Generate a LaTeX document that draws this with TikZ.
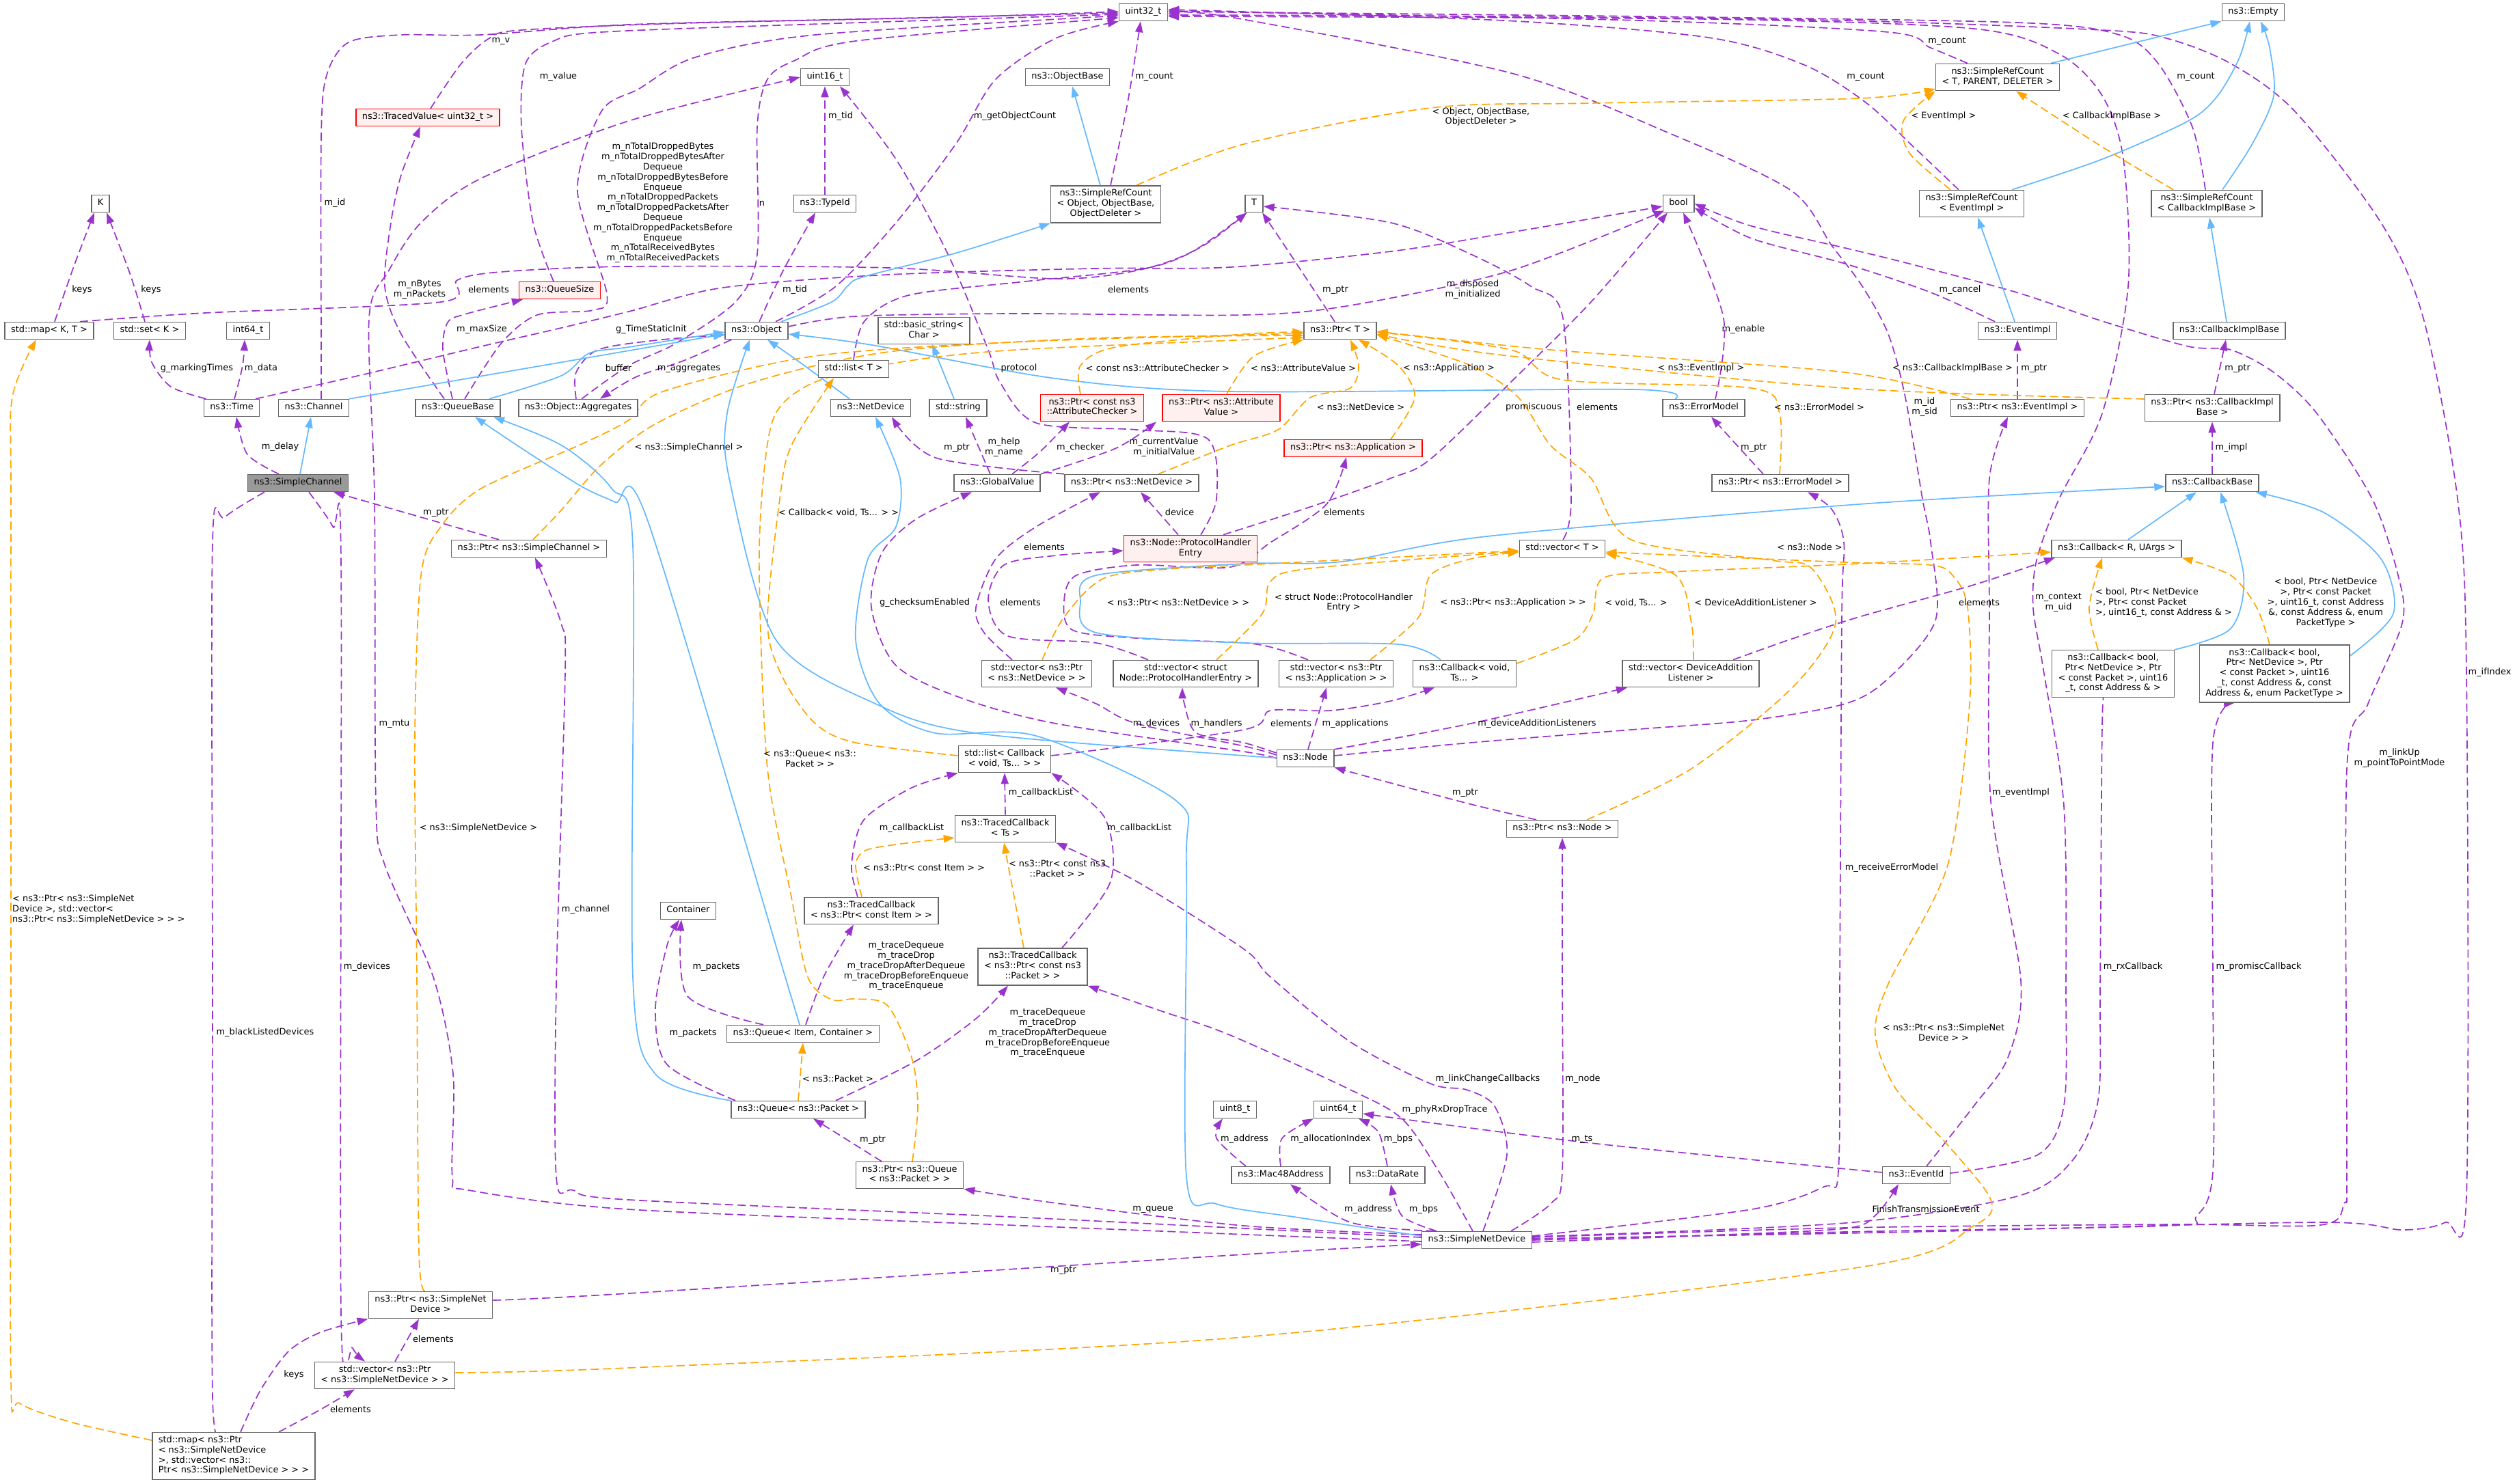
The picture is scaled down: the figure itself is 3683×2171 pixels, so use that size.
\documentclass[tikz,border=0pt]{standalone}
\usepackage{fontspec}
\setmainfont{DejaVu Sans}
\usetikzlibrary{arrows.meta}
\newcommand\dxfont{\fontsize{12.9pt}{14.8pt}\selectfont}
\definecolor{purp}{HTML}{9A32CD}
\definecolor{blu}{HTML}{63B8FF}
\definecolor{orng}{HTML}{FFA500}
\definecolor{boxgray}{HTML}{666666}
\definecolor{curgray}{HTML}{999999}
\definecolor{redfill}{HTML}{FFF0F0}
\pgfdeclarelayer{bgfill}
\pgfdeclarelayer{edges}
\pgfsetlayers{bgfill,edges,main}
\begin{document}
\begin{tikzpicture}[x=1pt,y=-1pt,
  cls/.style={draw=boxgray, fill=white, line width=1.5pt, inner xsep=9pt, inner ysep=5.1pt, align=center, font=\dxfont, execute at begin node=\strut, execute at end node=\strut},
  redcls/.style={cls, draw=red, fill=redfill},
  curcls/.style={cls, fill=curgray},
  lbl/.style={font=\dxfont, align=center, inner sep=0pt, text=black},
  usedge/.style={draw=purp, line width=1.7pt, dash pattern=on 12pt off 6pt, -{Triangle[length=16pt,width=11pt]}},
  inhedge/.style={draw=blu, line width=1.7pt, -{Triangle[length=16pt,width=11pt]}},
  tmpledge/.style={draw=orng, line width=1.7pt, dash pattern=on 12pt off 6pt, -{Triangle[length=16pt,width=11pt]}}
]
\begin{pgfonlayer}{bgfill}
\fill[white] (0,0) rectangle (3683,2171);
\end{pgfonlayer}
\useasboundingbox (0,0) rectangle (3683,2171);

% ---------------- nodes ----------------
\node[cls] (K) at (147,298) {K};
\node[cls] (mapKT) at (72,484) {std::map< K, T >};
\node[cls] (setK) at (219,484) {std::set< K >};
\node[cls] (int64) at (363,484) {int64\_t};
\node[redcls] (tracedvalue) at (626,172) {ns3::TracedValue< uint32\_t >};
\node[redcls] (queuesize) at (819,425) {ns3::QueueSize};
\node[cls] (nstime) at (339,597) {ns3::Time};
\node[cls] (channel) at (459,597) {ns3::Channel};
\node[cls] (queuebase) at (670,597) {ns3::QueueBase};
\node[cls] (aggregates) at (846,597) {ns3::Object::Aggregates};
\node[curcls] (simplechannel) at (436,707) {ns3::SimpleChannel};
\node[cls] (uint32) at (1673,18) {uint32\_t};
\node[cls] (uint16) at (1207,113) {uint16\_t};
\node[cls] (objectbase) at (1562,113) {ns3::ObjectBase};
\node[cls] (typeid) at (1207,298) {ns3::TypeId};
\node[cls] (srcobject) at (1618,299) {ns3::SimpleRefCount\\< Object, ObjectBase,\\ObjectDeleter >};
\node[cls] (object) at (1107,484) {ns3::Object};
\node[cls] (basicstring) at (1352,484) {std::basic\_string<\\Char >};
\node[cls] (listT) at (1249,540) {std::list< T >};
\node[cls] (netdevice) at (1274,597) {ns3::NetDevice};
\node[cls] (string) at (1402,597) {std::string};
\node[redcls] (ptrchecker) at (1598,597) {ns3::Ptr< const ns3\\::AttributeChecker >};
\node[redcls] (ptrvalue) at (1787,597) {ns3::Ptr< ns3::Attribute\\Value >};
\node[cls] (globalvalue) at (1459,707) {ns3::GlobalValue};
\node[cls] (ptrnetdevice) at (1656,707) {ns3::Ptr< ns3::NetDevice >};
\node[cls] (T) at (1835,298) {T};
\node[cls] (bool) at (2456,298) {bool};
\node[cls] (ptrT) at (1961,484) {ns3::Ptr< T >};
\node[redcls] (ptrapp) at (1980,656) {ns3::Ptr< ns3::Application >};
\node[cls] (errormodel) at (2493,597) {ns3::ErrorModel};
\node[cls] (ptrerrormodel) at (2605,707) {ns3::Ptr< ns3::ErrorModel >};
\node[cls] (empty) at (3297,18) {ns3::Empty};
\node[cls] (srcTPD) at (2923,113) {ns3::SimpleRefCount\\< T, PARENT, DELETER >};
\node[cls] (srcevent) at (2885,298) {ns3::SimpleRefCount\\< EventImpl >};
\node[cls] (srccib) at (3229,298) {ns3::SimpleRefCount\\< CallbackImplBase >};
\node[cls] (eventimpl) at (2952,484) {ns3::EventImpl};
\node[cls] (cib) at (3262,484) {ns3::CallbackImplBase};
\node[cls] (ptreventimpl) at (2952,597) {ns3::Ptr< ns3::EventImpl >};
\node[cls] (ptrcib) at (3237,597) {ns3::Ptr< ns3::CallbackImpl\\Base >};
\node[cls] (callbackbase) at (3237,707) {ns3::CallbackBase};
\node[cls] (ptrsimplechannel) at (774,803) {ns3::Ptr< ns3::SimpleChannel >};
\node[redcls] (phe) at (1742,803) {ns3::Node::ProtocolHandler\\Entry};
\node[cls] (vecnetdev) at (1517,986) {std::vector< ns3::Ptr\\< ns3::NetDevice > >};
\node[cls] (vecphe) at (1735,986) {std::vector< struct\\Node::ProtocolHandlerEntry >};
\node[cls] (vecT) at (2286,803) {std::vector< T >};
\node[cls] (vecapp) at (1955,986) {std::vector< ns3::Ptr\\< ns3::Application > >};
\node[cls] (cbvoid) at (2143,986) {ns3::Callback< void,\\Ts... >};
\node[cls] (vecdal) at (2474,986) {std::vector< DeviceAddition\\Listener >};
\node[cls] (nsnode) at (1910,1110) {ns3::Node};
\node[cls] (ptrnode) at (2286,1213) {ns3::Ptr< ns3::Node >};
\node[cls] (callbackR) at (3097,803) {ns3::Callback< R, UArgs >};
\node[cls] (cb4) at (3092,986) {ns3::Callback< bool,\\Ptr< NetDevice >, Ptr\\< const Packet >, uint16\\\_t, const Address \& >};
\node[cls] (cb5) at (3328,986) {ns3::Callback< bool,\\Ptr< NetDevice >, Ptr\\< const Packet >, uint16\\\_t, const Address \&, const\\Address \&, enum PacketType >};
\node[cls] (listcb) at (1470,1111) {std::list< Callback\\< void, Ts... > >};
\node[cls] (tcbts) at (1471,1213) {ns3::TracedCallback\\< Ts >};
\node[cls] (tcbitem) at (1275,1333) {ns3::TracedCallback\\< ns3::Ptr< const Item > >};
\node[cls] (tcbpacket) at (1511,1415) {ns3::TracedCallback\\< ns3::Ptr< const ns3\\::Packet > >};
\node[cls] (container) at (1007,1333) {Container};
\node[cls] (queueIC) at (1175,1513) {ns3::Queue< Item, Container >};
\node[cls] (queuepacket) at (1168,1624) {ns3::Queue< ns3::Packet >};
\node[cls] (ptrqueue) at (1331,1720) {ns3::Ptr< ns3::Queue\\< ns3::Packet > >};
\node[cls] (uint8) at (1807,1624) {uint8\_t};
\node[cls] (uint64) at (1958,1624) {uint64\_t};
\node[cls] (mac48) at (1874,1720) {ns3::Mac48Address};
\node[cls] (datarate) at (2030,1720) {ns3::DataRate};
\node[cls] (snd) at (2161,1815) {ns3::SimpleNetDevice};
\node[cls] (eventid) at (2804,1720) {ns3::EventId};
\node[cls] (ptrsnd) at (630,1910) {ns3::Ptr< ns3::SimpleNet\\Device >};
\node[cls] (vecsnd) at (563,2013) {std::vector< ns3::Ptr\\< ns3::SimpleNetDevice > >};
\node[cls, align=left] (mapsnd) at (342,2131) {std::map< ns3::Ptr\\< ns3::SimpleNetDevice\\ >, std::vector< ns3::\\Ptr< ns3::SimpleNetDevice > > >};

% ---------------- labels ----------------
\node[lbl] (lb1) at (120,424) {keys};
\node[lbl] (lb2) at (221,424) {keys};
\node[lbl] (lb3) at (288,539) {g\_markingTimes};
\node[lbl] (lb4) at (382,539) {m\_data};
\node[lbl] (lb5) at (410,654) {m\_delay};
\node[lbl] (lb6) at (490,297) {m\_id};
\node[lbl] (lb7) at (733,60) {m\_v};
\node[lbl] (lb8) at (817,112) {m\_value};
\node[lbl] (lb9) at (705,482) {m\_maxSize};
\node[lbl] (lb10) at (614,424) {m\_nBytes\\m\_nPackets};
\node[lbl] (lb11) at (970,297) {m\_nTotalDroppedBytes\\m\_nTotalDroppedBytesAfter\\Dequeue\\m\_nTotalDroppedBytesBefore\\Enqueue\\m\_nTotalDroppedPackets\\m\_nTotalDroppedPacketsAfter\\Dequeue\\m\_nTotalDroppedPacketsBefore\\Enqueue\\m\_nTotalReceivedBytes\\m\_nTotalReceivedPackets};
\node[lbl] (lb12) at (953,482) {g\_TimeStaticInit};
\node[lbl] (lb13) at (905,539) {buffer};
\node[lbl] (lb14) at (1008,539) {m\_aggregates};
\node[lbl] (lb15) at (1230,170) {m\_tid};
\node[lbl] (lb16) at (1163,424) {m\_tid};
\node[lbl] (lb17) at (1115,298) {n};
\node[lbl] (lb18) at (1485,170) {m\_getObjectCount};
\node[lbl] (lb19) at (1689,112) {m\_count};
\node[lbl] (lb20) at (2849,60) {m\_count};
\node[lbl] (lb21) at (2730,112) {m\_count};
\node[lbl] (lb22) at (3213,112) {m\_count};
\node[lbl] (lb23) at (3643,984) {m\_ifIndex};
\node[lbl] (lb24) at (2551,482) {m\_enable};
\node[lbl] (lb25) at (2155,424) {m\_disposed\\m\_initialized};
\node[lbl] (lb26) at (1954,424) {m\_ptr};
\node[lbl] (lb27) at (2868,424) {m\_cancel};
\node[lbl] (lb28) at (2566,655) {m\_ptr};
\node[lbl] (lb29) at (2976,539) {m\_ptr};
\node[lbl] (lb30) at (3274,539) {m\_ptr};
\node[lbl] (lb31) at (3265,655) {m\_impl};
\node[lbl] (lb32) at (715,424) {elements};
\node[lbl] (lb33) at (1651,424) {elements};
\node[lbl] (lb34) at (2337,596) {elements};
\node[lbl] (lb35) at (2244,596) {promiscuous};
\node[lbl] (lb36) at (1967,750) {elements};
\node[lbl] (lb37) at (1692,1059) {m\_devices};
\node[lbl] (lb38) at (1780,1059) {m\_handlers};
\node[lbl] (lb39) at (1983,1059) {m\_applications};
\node[lbl] (lb40) at (2249,1059) {m\_deviceAdditionListeners};
\node[lbl] (lb41) at (1889,1059) {elements};
\node[lbl] (lb42) at (2816,596) {m\_id\\m\_sid};
\node[lbl] (lb43) at (1353,882) {g\_checksumEnabled};
\node[lbl] (lb44) at (1528,801) {elements};
\node[lbl] (lb45) at (1493,882) {elements};
\node[lbl] (lb46) at (1726,750) {device};
\node[lbl] (lb47) at (1491,539) {protocol};
\node[lbl] (lb48) at (1400,655) {m\_ptr};
\node[lbl] (lb49) at (1469,655) {m\_help\\m\_name};
\node[lbl] (lb50) at (1581,655) {m\_checker};
\node[lbl] (lb51) at (1703,655) {m\_currentValue\\m\_initialValue};
\node[lbl] (lb52) at (1523,1160) {m\_callbackList};
\node[lbl] (lb53) at (1334,1212) {m\_callbackList};
\node[lbl] (lb54) at (1667,1212) {m\_callbackList};
\node[lbl] (lb55) at (1326,1414) {m\_traceDequeue\\m\_traceDrop\\m\_traceDropAfterDequeue\\m\_traceDropBeforeEnqueue\\m\_traceEnqueue};
\node[lbl] (lb56) at (1533,1512) {m\_traceDequeue\\m\_traceDrop\\m\_traceDropAfterDequeue\\m\_traceDropBeforeEnqueue\\m\_traceEnqueue};
\node[lbl] (lb57) at (1048,1415) {m\_packets};
\node[lbl] (lb58) at (1014,1512) {m\_packets};
\node[lbl] (lb59) at (1277,1668) {m\_ptr};
\node[lbl] (lb60) at (1687,1770) {m\_queue};
\node[lbl] (lb61) at (2177,1579) {m\_linkChangeCallbacks};
\node[lbl] (lb62) at (2114,1624) {m\_phyRxDropTrace};
\node[lbl] (lb63) at (2316,1579) {m\_node};
\node[lbl] (lb64) at (2144,1160) {m\_ptr};
\node[lbl] (lb65) at (2002,1770) {m\_address};
\node[lbl] (lb66) at (2083,1770) {m\_bps};
\node[lbl] (lb67) at (2046,1667) {m\_bps};
\node[lbl] (lb68) at (1947,1667) {m\_allocationIndex};
\node[lbl] (lb69) at (1821,1667) {m\_address};
\node[lbl] (lb70) at (2315,1667) {m\_ts};
\node[lbl] (lb71) at (2818,1770) {FinishTransmissionEvent};
\node[lbl] (lb72) at (2957,1160) {m\_eventImpl};
\node[lbl] (lb73) at (3012,882) {m\_context\\m\_uid};
\node[lbl] (lb74) at (3121,1415) {m\_rxCallback};
\node[lbl] (lb75) at (3305,1415) {m\_promiscCallback};
\node[lbl] (lb76) at (3511,1110) {m\_linkUp\\m\_pointToPointMode};
\node[lbl] (lb77) at (2768,1270) {m\_receiveErrorModel};
\node[lbl] (lb78) at (2896,882) {elements};
\node[lbl] (lb79) at (857,1331) {m\_channel};
\node[lbl] (lb80) at (577,1059) {m\_mtu};
\node[lbl] (lb81) at (638,750) {m\_ptr};
\node[lbl] (lb82) at (388,1511) {m\_blackListedDevices};
\node[lbl] (lb83) at (537,1415) {m\_devices};
\node[lbl] (lb84) at (430,2012) {keys};
\node[lbl] (lb85) at (513,2063) {elements};
\node[lbl] (lb86) at (634,1960) {elements};
\node[lbl] (lb87) at (1556,1859) {m\_ptr};
% template labels
\node[lbl, align=left, anchor=west] (tl1) at (18,1331) {< ns3::Ptr< ns3::SimpleNet\\Device >, std::vector<\\ns3::Ptr< ns3::SimpleNetDevice > > >};
\node[lbl] (tl2) at (2844,1511) {< ns3::Ptr< ns3::SimpleNet\\Device > >};
\node[lbl] (tl3) at (700,1212) {< ns3::SimpleNetDevice >};
\node[lbl] (tl4) at (1008,655) {< ns3::SimpleChannel >};
\node[lbl] (tl5) at (1185,1110) {< ns3::Queue< ns3::\\Packet > >};
\node[lbl] (tl6) at (1227,750) {< Callback< void, Ts... > >};
\node[lbl] (tl7) at (1694,539) {< const ns3::AttributeChecker >};
\node[lbl] (tl8) at (1907,539) {< ns3::AttributeValue >};
\node[lbl] (tl9) at (2120,539) {< ns3::Application >};
\node[lbl] (tl10) at (1991,596) {< ns3::NetDevice >};
\node[lbl] (tl11) at (2662,596) {< ns3::ErrorModel >};
\node[lbl] (tl12) at (2489,539) {< ns3::EventImpl >};
\node[lbl] (tl13) at (2857,539) {< ns3::CallbackImplBase >};
\node[lbl] (tl14) at (2648,801) {< ns3::Node >};
\node[lbl] (tl15) at (1724,882) {< ns3::Ptr< ns3::NetDevice > >};
\node[lbl] (tl16) at (1966,882) {< struct Node::ProtocolHandler\\Entry >};
\node[lbl] (tl17) at (2214,882) {< ns3::Ptr< ns3::Application > >};
\node[lbl] (tl18) at (2394,882) {< void, Ts... >};
\node[lbl] (tl19) at (2569,882) {< DeviceAdditionListener >};
\node[lbl, align=left, anchor=west] (tl20) at (3066,882) {< bool, Ptr< NetDevice\\>, Ptr< const Packet\\>, uint16\_t, const Address \& >};
\node[lbl] (tl21) at (3403,882) {< bool, Ptr< NetDevice\\>, Ptr< const Packet\\>, uint16\_t, const Address\\\&, const Address \&, enum\\PacketType >};
\node[lbl] (tl22) at (2167,171) {< Object, ObjectBase,\\ObjectDeleter >};
\node[lbl] (tl23) at (2844,170) {< EventImpl >};
\node[lbl] (tl24) at (3090,170) {< CallbackImplBase >};
\node[lbl] (tl25) at (1352,1270) {< ns3::Ptr< const Item > >};
\node[lbl] (tl26) at (1547,1271) {< ns3::Ptr< const ns3\\::Packet > >};
\node[lbl] (tl27) at (1226,1579) {< ns3::Packet >};

% ---------------- edges ----------------
\begin{pgfonlayer}{edges}
% usage (purple)
\draw[usedge] plot[smooth] coordinates {([xshift=8pt]mapKT.north) (108,390) ([xshift=-9pt]K.south)};
\draw[usedge] plot[smooth] coordinates {([xshift=-7pt]setK.north) (190,400) ([xshift=9pt]K.south)};
\draw[usedge] plot[smooth] coordinates {([xshift=4pt]nstime.north west) (250,566) (222,530) (setK.south)};
\draw[usedge] plot[smooth] coordinates {([xshift=4pt]nstime.north) (355,535) ([xshift=-5pt]int64.south)};
\draw[usedge] plot[smooth] coordinates {([xshift=-28pt]simplechannel.north) (362,665) ([xshift=7pt]nstime.south)};
\draw[usedge] plot[smooth] coordinates {([xshift=11pt]channel.north) (470,500) (470,200) (478,110) (510,62) (587,51) (704,51) (920,36) (1300,27) ([yshift=-1pt]uint32.west)};
\draw[usedge] plot[smooth] coordinates {([xshift=4pt]tracedvalue.north) (675,93) (716,56) (763,44) (1000,34) (1400,25) ([yshift=1pt]uint32.west)};
\draw[usedge] plot[smooth] coordinates {([xshift=-9pt]queuesize.north) (780,326) (763,186) (769,93) (810,60) (880,47) (1200,35) ([yshift=-3pt]uint32.west)};
\draw[usedge] plot[smooth] coordinates {([xshift=-8pt]queuebase.north) (648,512) (655,472) (680,460) ([xshift=-54pt]queuesize.south)};
\draw[usedge] plot[smooth] coordinates {([xshift=-20pt]queuebase.north) (587,489) (563,419) (572,326) (587,256) ([xshift=-11pt]tracedvalue.south)};
\draw[usedge] plot[smooth] coordinates {([xshift=10pt]queuebase.north) (733,503) (786,461) (868,454) (888,430) (845,279) (880,163) (935,130) (1017,84) (1193,51) ([yshift=-5pt]uint32.west)};
\draw[usedge] plot[smooth] coordinates {([xshift=35pt]nstime.north) (528,549) (704,507) (821,480) (920,456) (1058,421) (1300,402) (1600,393) (1800,391) (2035,368) (2211,340) ([yshift=-4pt]bool.west)};
\draw[usedge] plot[smooth] coordinates {([xshift=-3pt]aggregates.north) (843,545) (875,512) (960,498) ([yshift=-6pt]object.west)};
\draw[usedge] plot[smooth] coordinates {([xshift=-37pt]object.south) (1000,528) (930,552) ([xshift=32pt]aggregates.north)};
\draw[usedge] plot[smooth] coordinates {([xshift=5pt]aggregates.north) (920,535) (988,503) (1076,442) (1108,372) (1108,186) (1123,116) (1164,88) (1252,60) ([yshift=-8pt]uint32.west)};
\draw[usedge] plot[smooth] coordinates {([xshift=28pt]object.north) (1223,419) (1311,326) (1399,210) (1457,116) (1545,56) (uint32.south west)};
\draw[usedge] plot[smooth] coordinates {([xshift=4pt]object.north) (1146,396) ([xshift=-14pt]typeid.south)};
\draw[usedge] plot[smooth] coordinates {(typeid.north) (uint16.south)};
\draw[usedge] plot[smooth] coordinates {([xshift=7pt]srcobject.north) (1650,150) ([xshift=-4pt]uint32.south)};
\draw[usedge] plot[smooth] coordinates {([yshift=6pt]object.east) (1252,463) (1487,459) (1820,461) (1976,447) (2211,396) ([xshift=3pt,yshift=3pt]bool.south west)};
\draw[usedge] plot[smooth] coordinates {([xshift=-8pt]ptrT.north) (1888,372) ([xshift=12pt]T.south)};
\draw[usedge] plot[smooth] coordinates {([xshift=45pt]mapKT.north) (300,458) (645,442) (669,410) (733,398) (920,390) (1300,392) (1545,408) (1663,396) (1745,368) ([xshift=3pt]T.south west)};
\draw[usedge] plot[smooth] coordinates {(listT.north) (1265,470) (1330,432) (1500,412) (1680,392) (1760,360) ([xshift=3pt]T.south west)};
\draw[usedge] plot[smooth] coordinates {([xshift=1pt]vecT.north) (2299,730) (2287,466) (2240,419) (2152,372) (2035,326) ([yshift=-4pt]T.east)};
\draw[usedge] plot[smooth] coordinates {([xshift=17pt]errormodel.north) (2522,466) ([xshift=7pt]bool.south)};
\draw[usedge] plot[smooth] coordinates {([xshift=48pt]phe.north) (1917,742) (2035,700) (2093,672) (2211,559) (2328,442) ([xshift=-16pt]bool.south)};
\draw[usedge] plot[smooth] coordinates {([xshift=-33pt]eventimpl.north) (2825,428) (2700,386) (2563,349) ([yshift=-6pt]bool.east)};
\draw[usedge] plot[smooth] coordinates {([yshift=4pt]snd.east) (2700,1797) (3180,1792) (3395,1793) (3430,1762) (3434,1700) (3434,1125) (3465,1030) (3515,912) (3509,842) (3471,730) (3390,605) (3327,545) (3264,512) (3202,507) (3076,470) (2951,428) (2794,386) (2700,363) (2560,330) (bool.east)};
\draw[usedge] plot[smooth] coordinates {([yshift=2pt]snd.east) (2800,1803) (3390,1789) (3515,1800) (3578,1789) (3609,1751) (3609,983) (3596,730) (3546,466) (3484,326) (3358,163) (3264,93) (3170,56) (3076,44) (2700,30) (2200,24) ([yshift=-4pt]uint32.east)};
\draw[usedge] plot[smooth] coordinates {([xshift=-44pt]srcTPD.north) (2825,70) (2763,47) (2400,30) ([yshift=2pt]uint32.east)};
\draw[usedge] plot[smooth] coordinates {([xshift=-19pt]srcevent.north) (2800,215) (2730,150) (2640,95) (2500,55) (2200,30) ([yshift=4pt]uint32.east)};
\draw[usedge] plot[smooth] coordinates {([xshift=-2pt]srccib.north) (3208,186) (3158,93) (3101,51) (2951,33) (2400,24) ([yshift=1pt]uint32.east)};
\draw[usedge] plot[smooth] coordinates {([yshift=4pt]nsnode.east) (2152,1087) (2387,1068) (2563,1054) (2700,1030) (2763,993) (2832,908) (2825,794) (2813,730) (2788,582) (2763,489) (2725,419) (2680,359) (2621,279) (2445,196) (2211,107) (1800,25) ([yshift=-2pt]uint32.east)};
\draw[usedge] plot[smooth] coordinates {([yshift=3pt]eventid.east) (2982,1690) (3020,1618) (3023,1450) (3020,1180) (2990,980) (2975,890) (2980,820) (3013,730) (3076,605) (3114,419) (3107,233) (3076,140) (3013,79) (2888,42) (2500,28) ([yshift=-6pt]uint32.east)};
\draw[usedge] plot[smooth] coordinates {([xshift=-25pt]ptrerrormodel.north) (2540,650) ([xshift=11pt]errormodel.south)};
\draw[usedge] plot[smooth] coordinates {(ptreventimpl.north) (eventimpl.south)};
\draw[usedge] plot[smooth] coordinates {([xshift=3pt]ptrcib.north) ([xshift=-5pt]cib.south)};
\draw[usedge] plot[smooth] coordinates {(callbackbase.north) (ptrcib.south)};
\draw[usedge] plot[smooth] coordinates {([xshift=62pt]vecdal.north) (2622,935) (2720,903) (2888,856) ([xshift=-90pt]callbackR.south)};
\draw[usedge] plot[smooth] coordinates {([yshift=6pt]snd.east) (2563,1770) (2669,1737) (2690,1714) (2692,1440) (2695,900) (2698,794) (2680,745) ([xshift=40pt]ptrerrormodel.south)};
\draw[usedge] plot[smooth] coordinates {([yshift=-3pt]snd.east) (2500,1808) (2700,1798) (2745,1778) ([xshift=-26pt]eventid.south)};
\draw[usedge] plot[smooth] coordinates {([yshift=4pt]eventid.west) (2328,1673) ([yshift=-6pt]uint64.east)};
\draw[usedge] plot[smooth] coordinates {([xshift=15pt]eventid.north) (2888,1619) (2938,1548) (2957,1435) (2913,1172) (2911,889) (2911,700) ([xshift=-14pt]ptreventimpl.south)};
\draw[usedge] plot[smooth] coordinates {([yshift=5pt]snd.east) (2700,1790) (2951,1751) (3032,1699) (3070,1610) (3073,1440) (3076,1060) ([xshift=-12pt]cb4.south)};
\draw[usedge] plot[smooth] coordinates {(snd.east) (2700,1803) (3170,1794) (3214,1780) (3238,1714) (3238,1430) (3238,1087) ([xshift=-58pt]cb5.south)};
\draw[usedge] plot[smooth] coordinates {([yshift=8pt]snd.west) (1820,1794) (1546,1761) (ptrqueue.south east)};
\draw[usedge] plot[smooth] coordinates {([xshift=-41pt]ptrqueue.north) ([xshift=22pt]queuepacket.south)};
\draw[usedge] plot[smooth] coordinates {([xshift=-6pt]snd.north) (2105,1714) (2052,1638) (1976,1595) (1800,1515) (1700,1480) (tcbpacket.south east)};
\draw[usedge] plot[smooth] coordinates {([xshift=9pt]snd.north) (2205,1690) (2187,1619) (2146,1595) (2093,1586) (1976,1525) (1859,1430) (1820,1389) (1663,1290) (tcbts.south east)};
\draw[usedge] plot[smooth] coordinates {([xshift=50pt]snd.north) (2270,1761) (2286,1714) (2286,1430) (ptrnode.south)};
\draw[usedge] plot[smooth] coordinates {([xshift=-38pt]ptrnode.north) (2152,1177) (2035,1146) (nsnode.south east)};
\draw[usedge] plot[smooth] coordinates {([xshift=-62pt]snd.north) (1976,1789) ([xshift=14pt]mac48.south)};
\draw[usedge] plot[smooth] coordinates {([xshift=-59pt]snd.north) (2052,1780) ([xshift=5pt]datarate.south)};
\draw[usedge] plot[smooth] coordinates {(datarate.north) (2017,1657) ([xshift=30pt]uint64.south)};
\draw[usedge] plot[smooth] coordinates {(mac48.north) (1876,1666) (uint64.south west)};
\draw[usedge] plot[smooth] coordinates {([xshift=-51pt]mac48.north) (1780,1666) ([xshift=-18pt]uint8.south)};
\draw[usedge] plot[smooth] coordinates {([yshift=4pt]snd.west) (1500,1782) (920,1756) (839,1742) (814,1723) (814,1440) (827,983) (821,912) ([xshift=9pt]ptrsimplechannel.south)};
\draw[usedge] plot[smooth] coordinates {([yshift=-2pt]snd.west) (1500,1794) (920,1770) (686,1742) (662,1723) (663,1572) (634,1430) (563,1266) (550,1172) (548,730) (540,466) (569,396) (616,326) (704,261) (920,177) (uint16.west)};
\draw[usedge] plot[smooth] coordinates {([xshift=-44pt]ptrsimplechannel.north) ([xshift=-22pt]simplechannel.south east)};
\draw[usedge] plot[smooth] coordinates {([xshift=-49pt]simplechannel.south) (329,757) (311,794) (311,1440) (311,2044) ([xshift=-16pt]mapsnd.north)};
\draw[usedge] plot[smooth] coordinates {([xshift=16pt]simplechannel.south) (487,771) (499,818) (499,1921) (516,1973) ([xshift=-29pt]vecsnd.north)};
\draw[usedge] plot[smooth] coordinates {([xshift=10pt]mapsnd.north) (381,2035) (422,1978) (469,1950) (ptrsnd.south west)};
\draw[usedge] plot[smooth] coordinates {([xshift=66pt]mapsnd.north) (469,2063) ([xshift=-44pt]vecsnd.south)};
\draw[usedge] plot[smooth] coordinates {([xshift=15pt]vecsnd.north) ([xshift=-17pt]ptrsnd.south)};
\draw[usedge] plot[smooth] coordinates {([yshift=7pt]ptrsnd.east) (920,1893) (1820,1836) ([yshift=-6pt]snd.west)};
\draw[usedge] plot[smooth] coordinates {([xshift=-58pt]queueIC.north) (1006,1458) ([xshift=-10pt]container.south)};
\draw[usedge] plot[smooth] coordinates {([xshift=-92pt]queuepacket.north) (976,1558) (959,1477) (976,1384) ([xshift=-13pt]container.south)};
\draw[usedge] plot[smooth] coordinates {([xshift=4pt]queueIC.north) (1205,1430) ([xshift=-26pt]tcbitem.south)};
\draw[usedge] plot[smooth] coordinates {([xshift=55pt]queuepacket.north) (1340,1553) (1428,1491) ([xshift=-36pt]tcbpacket.south)};
\draw[usedge] plot[smooth] coordinates {(tcbts.north) (listcb.south)};
\draw[usedge] plot[smooth] coordinates {([xshift=-20pt]tcbitem.north) (1246,1266) (1264,1200) (1334,1153) (listcb.south west)};
\draw[usedge] plot[smooth] coordinates {([xshift=43pt]tcbpacket.north) (1625,1290) (1616,1196) (listcb.south east)};
\draw[usedge] plot[smooth] coordinates {(nsnode.west) (1820,1100) (1545,1059) (1405,1021) (1311,974) (1275,889) (1290,810) (1340,760) ([xshift=-37pt]globalvalue.south)};
\draw[usedge] plot[smooth] coordinates {([yshift=5pt]nsnode.west) (1820,1092) (1663,1059) (1604,1030) ([xshift=28pt]vecnetdev.south)};
\draw[usedge] plot[smooth] coordinates {([yshift=8pt]nsnode.west) (1820,1087) (1751,1073) (1733,1030) ([xshift=-5pt]vecphe.south)};
\draw[usedge] plot[smooth] coordinates {([xshift=4pt]nsnode.north) ([xshift=-14pt]vecapp.south)};
\draw[usedge] plot[smooth] coordinates {(nsnode.north east) (2152,1059) ([xshift=-93pt]vecdal.south)};
\draw[usedge] plot[smooth] coordinates {([yshift=5pt]listcb.east) (1820,1068) (1859,1040) (1947,1040) (2035,1026) ([xshift=-44pt]cbvoid.south)};
\draw[usedge] plot[smooth] coordinates {([xshift=-41pt]vecapp.north) (1870,950) (1820,941) (1663,934) (1569,922) (1557,879) (1575,842) (1663,827) (1800,830) (1859,794) (1941,738) ([xshift=-10pt]ptrapp.south)};
\draw[usedge] plot[smooth] coordinates {([xshift=-36pt]vecnetdev.north) (1440,926) (1428,889) (1457,818) (1516,771) ([xshift=-46pt]ptrnetdevice.south)};
\draw[usedge] plot[smooth] coordinates {([xshift=-55pt]vecphe.north) (1604,941) (1475,931) (1446,879) (1469,827) (1545,813) ([yshift=-3pt]phe.west)};
\draw[usedge] plot[smooth] coordinates {([xshift=-18pt]phe.north) ([xshift=13pt]ptrnetdevice.south)};
\draw[usedge] plot[smooth] coordinates {([xshift=15pt]phe.north) (1780,730) (1768,643) (1663,629) (1516,619) (1463,559) (1446,512) (1387,372) (1311,233) ([xshift=22pt]uint16.south)};
\draw[usedge] plot[smooth] coordinates {([xshift=-99pt]ptrnetdevice.north) (1369,670) ([xshift=31pt]netdevice.south)};
\draw[usedge] plot[smooth] coordinates {([xshift=-10pt]globalvalue.north) ([xshift=11pt]string.south)};
\draw[usedge] plot[smooth] coordinates {([xshift=22pt]globalvalue.north) (1522,661) ([xshift=-33pt]ptrchecker.south)};
\draw[usedge] plot[smooth] coordinates {(globalvalue.north east) (1633,656) ([xshift=-95pt]ptrvalue.south)};
% inheritance (blue)
\draw[inhedge] plot[smooth] coordinates {([xshift=3pt]simplechannel.north) ([xshift=-4pt]channel.south)};
\draw[inhedge] plot[smooth] coordinates {(channel.north east) ([yshift=-5pt]object.west)};
\draw[inhedge] plot[smooth] coordinates {([xshift=46pt]queuebase.north) (821,550) (862,517) (920,508) ([yshift=-2pt]object.west)};
\draw[inhedge] plot[smooth] coordinates {([xshift=-5pt]queueIC.north) (1149,1430) (947,760) (900,735) (851,712) (763,656) ([xshift=25pt]queuebase.south)};
\draw[inhedge] plot[smooth] coordinates {(queuepacket.north west) (959,1572) (926,1430) (926,799) (895,715) (822,652) ([xshift=52pt]queuebase.south)};
\draw[inhedge] plot[smooth] coordinates {([xshift=-31pt]netdevice.north) (1170,530) ([xshift=16pt]object.south)};
\draw[inhedge] plot[smooth] coordinates {([yshift=2pt]nsnode.west) (1820,1106) (1428,1073) (1281,1030) (1135,936) (1067,700) (1064,605) ([xshift=-10pt]object.south)};
\draw[inhedge] plot[smooth] coordinates {([yshift=6pt]snd.west) (1900,1782) (1780,1762) (1736,1722) (1736,1266) (1721,1172) (1516,1077) (1369,1073) (1287,1030) (1252,936) (1270,818) (1311,771) (1317,700) ([xshift=7pt]netdevice.south)};
\draw[inhedge] plot[smooth] coordinates {([xshift=-42pt]errormodel.north) (2387,570) (1800,573) (1545,554) (1276,505) ([yshift=-5pt]object.east)};
\draw[inhedge] plot[smooth] coordinates {([xshift=36pt]object.north) (1217,442) (1240,419) (1264,405) (1400,370) (srcobject.south west)};
\draw[inhedge] plot[smooth] coordinates {([xshift=-8pt]srcobject.north) ([xshift=7pt]objectbase.south)};
\draw[inhedge] plot[smooth] coordinates {([xshift=78pt]srcTPD.north) (empty.south west)};
\draw[inhedge] plot[smooth] coordinates {([xshift=59pt]srcevent.north) (3076,233) (3202,177) (3245,140) (3277,84) ([xshift=-5pt]empty.south)};
\draw[inhedge] plot[smooth] coordinates {([xshift=23pt]srccib.north) (3296,210) (3327,140) (3321,70) ([xshift=11pt]empty.south)};
\draw[inhedge] plot[smooth] coordinates {([xshift=-4pt]eventimpl.north) ([xshift=9pt]srcevent.south)};
\draw[inhedge] plot[smooth] coordinates {([xshift=-4pt]cib.north) ([xshift=4pt]srccib.south)};
\draw[inhedge] plot[smooth] coordinates {([xshift=17pt]callbackR.north) ([xshift=-23pt]callbackbase.south)};
\draw[inhedge] plot[smooth] coordinates {(cb4.north east) (3264,920) (3283,842) ([xshift=12pt]callbackbase.south)};
\draw[inhedge] plot[smooth] coordinates {([yshift=26pt]cb5.east) (3502,898) (3484,818) (3400,750) ([xshift=-5pt]callbackbase.south east)};
\draw[inhedge] plot[smooth] coordinates {([xshift=-35pt]cbvoid.north) (2046,943) (1820,941) (1604,926) (1581,880) (1604,842) (1820,825) (1964,822) (2176,785) (2720,738) ([yshift=-5pt]callbackbase.west)};
\draw[inhedge] plot[smooth] coordinates {([xshift=-6pt]string.north) ([xshift=12pt]basicstring.south)};
% template instances (orange)
\draw[tmpledge] plot[smooth] coordinates {([yshift=23pt]mapsnd.west) (106,2082) (29,2054) (16,2020) (16,1430) (16,730) (18,582) ([xshift=-19pt]mapKT.south)};
\draw[tmpledge] plot[smooth] coordinates {([yshift=4pt]vecsnd.east) (920,2002) (1820,1957) (2720,1855) (2888,1794) (2913,1756) (2850,1676) (2775,1595) (2744,1515) (2763,1440) (2850,1266) (2882,1030) (2879,889) (2857,842) (2825,827) (2700,823) ([yshift=-5pt]vecT.east)};
\draw[tmpledge] plot[smooth] coordinates {([xshift=-8pt]ptrsnd.north) (613,1832) (610,1430) (607,1078) (616,842) (645,771) (704,715) (851,650) (920,615) (970,573) (1193,521) (1500,500) ([yshift=-4pt]ptrT.west)};
\draw[tmpledge] plot[smooth] coordinates {([xshift=6pt]ptrsimplechannel.north) (821,747) (880,680) (960,620) (1100,560) (1300,515) (1600,495) ([yshift=-7pt]ptrT.west)};
\draw[tmpledge] plot[smooth] coordinates {([xshift=4pt]ptrqueue.north) (1343,1619) (1334,1548) (1299,1472) (1252,1462) (1217,1463) (1182,1430) (1158,1313) (1123,1125) (1111,842) (1117,700) (1135,605) (1193,559) (1311,531) (1487,512) ([yshift=-10pt]ptrT.west)};
\draw[tmpledge] plot[smooth] coordinates {([yshift=5pt]listcb.west) (1252,1087) (1193,1059) (1146,993) (1123,912) (1141,730) (1158,652) ([xshift=-29pt]listT.south)};
\draw[tmpledge] plot[smooth] coordinates {([xshift=-17pt]ptrchecker.north) (1581,535) (1633,508) (1820,489) ([yshift=-2pt]ptrT.west)};
\draw[tmpledge] plot[smooth] coordinates {([xshift=8pt]ptrvalue.north) (1835,521) (ptrT.south west)};
\draw[tmpledge] plot[smooth] coordinates {([xshift=55pt]ptrapp.north) (2070,582) (2046,535) ([xshift=27pt]ptrT.south)};
\draw[tmpledge] plot[smooth] coordinates {([xshift=39pt]ptrnetdevice.north) (1800,652) (1870,629) (1917,582) (1976,568) (1988,535) ([xshift=15pt]ptrT.south)};
\draw[tmpledge] plot[smooth] coordinates {([xshift=-1pt]ptrerrormodel.north) (2604,605) (2563,568) (2287,556) (2211,512) ([yshift=-2pt]ptrT.east)};
\draw[tmpledge] plot[smooth] coordinates {([xshift=-70pt]ptreventimpl.north) (2700,545) (2269,512) ([yshift=-1pt]ptrT.east)};
\draw[tmpledge] plot[smooth] coordinates {([yshift=13pt]ptrcib.west) (2700,568) (2200,520) ([yshift=-5pt]ptrT.east)};
\draw[tmpledge] plot[smooth] coordinates {([xshift=36pt]ptrnode.north) (2475,1125) (2622,1007) (2686,912) (2651,832) (2592,820) (2387,790) (2328,700) (2269,652) (2222,582) (2152,535) ([yshift=-6pt]ptrT.east)};
\draw[tmpledge] plot[smooth] coordinates {([xshift=8pt]vecnetdev.north) (1557,903) (1616,846) (1721,832) (1820,827) ([yshift=-3pt]vecT.west)};
\draw[tmpledge] plot[smooth] coordinates {([xshift=45pt]vecphe.north) (1847,898) (1859,851) (1917,832) ([yshift=-4pt]vecT.west)};
\draw[tmpledge] plot[smooth] coordinates {([xshift=50pt]vecapp.north) (2076,903) (2093,842) (2152,818) ([yshift=-5pt]vecT.west)};
\draw[tmpledge] plot[smooth] coordinates {([yshift=15pt]cbvoid.east) (2305,936) (2331,898) (2346,846) (2446,837) (2720,825) ([yshift=-5pt]callbackR.west)};
\draw[tmpledge] plot[smooth] coordinates {([xshift=4pt]vecdal.north) (2475,912) (2452,842) ([yshift=-7pt]vecT.east)};
\draw[tmpledge] plot[smooth] coordinates {([xshift=-22pt]cb4.north) (3057,889) ([xshift=-21pt]callbackR.south)};
\draw[tmpledge] plot[smooth] coordinates {([xshift=-7pt]cb5.north) (3302,889) (3264,842) (callbackR.south east)};
\draw[tmpledge] plot[smooth] coordinates {([xshift=45pt]srcobject.north) (1820,211) (2093,158) (2328,151) (2720,144) ([yshift=-17pt]srcTPD.west)};
\draw[tmpledge] plot[smooth] coordinates {([xshift=-31pt]srcevent.north) (2794,224) (2785,177) (srcTPD.south west)};
\draw[tmpledge] plot[smooth] coordinates {([xshift=-49pt]srccib.north) (3076,215) ([xshift=27pt]srcTPD.south)};
\draw[tmpledge] plot[smooth] coordinates {([xshift=-14pt]tcbitem.north) (1252,1266) (1266,1245) (1311,1236) ([yshift=-13pt]tcbts.west)};
\draw[tmpledge] plot[smooth] coordinates {([xshift=-13pt]tcbpacket.north) ([xshift=-2pt]tcbts.south)};
\draw[tmpledge] plot[smooth] coordinates {(queuepacket.north) (queueIC.south)};
\end{pgfonlayer}
\end{tikzpicture}
\end{document}
